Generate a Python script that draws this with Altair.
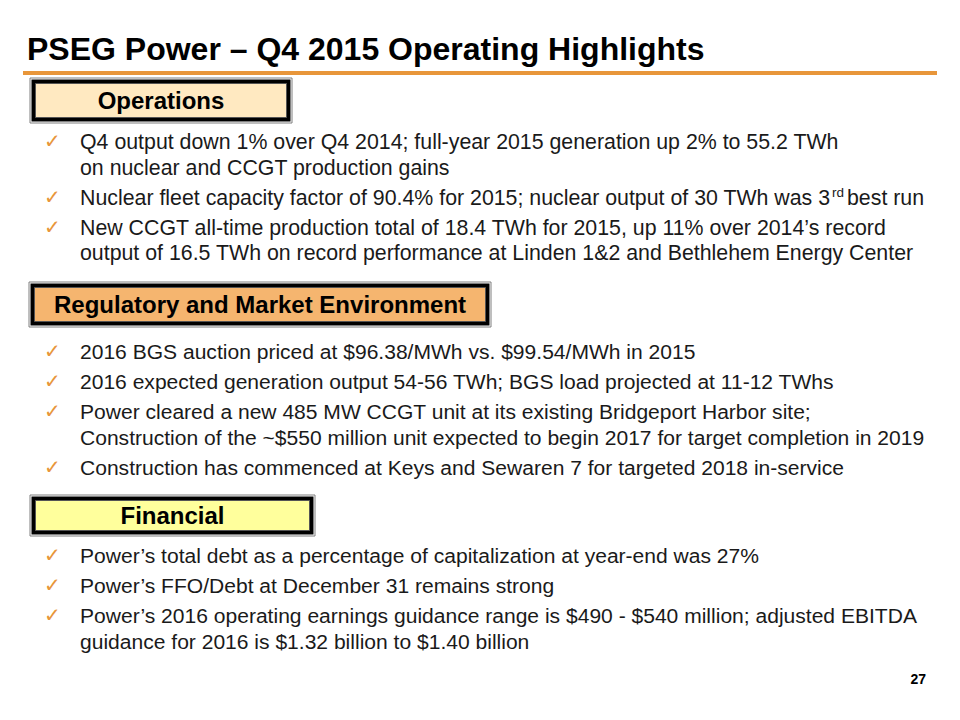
import altair as alt
import pandas as pd

# ---------------- content ----------------
TITLE = "PSEG Power – Q4 2015 Operating Highlights"
PAGE_NUMBER = "27"
SECTION_TITLES = ["Operations", "Regulatory and Market Environment", "Financial"]
OPERATIONS = [
    ["Q4 output down 1% over Q4 2014; full-year 2015 generation up 2% to 55.2 TWh",
     "on nuclear and CCGT production gains"],
    ["Nuclear fleet capacity factor of 90.4% for 2015; nuclear output of 30 TWh was 3^rd^best run"],
    ["New CCGT all-time production total of 18.4 TWh for 2015, up 11% over 2014’s record",
     "output of 16.5 TWh on record performance at Linden 1&2 and Bethlehem Energy Center"],
]
REGULATORY = [
    ["2016 BGS auction priced at $96.38/MWh vs. $99.54/MWh in 2015"],
    ["2016 expected generation output 54-56 TWh; BGS load projected at 11-12 TWhs"],
    ["Power cleared a new 485 MW CCGT unit at its existing Bridgeport Harbor site;",
     "Construction of the ~$550 million unit expected to begin 2017 for target completion in 2019"],
    ["Construction has commenced at Keys and Sewaren 7 for targeted 2018 in-service"],
]
FINANCIAL = [
    ["Power’s total debt as a percentage of capitalization at year-end was 27%"],
    ["Power’s FFO/Debt at December 31 remains strong"],
    ["Power’s 2016 operating earnings guidance range is $490 - $540 million; adjusted EBITDA",
     "guidance for 2016 is $1.32 billion to $1.40 billion"],
]
SECTIONS = [OPERATIONS, REGULATORY, FINANCIAL]

# ---------------- layout (page pixels) ----------------
W, H = 944, 704
BOXES = [(30, 292, 78, 123), (29, 491, 282, 327), (30, 315, 495, 536)]
BOX_FILLS = ["#FFE9C1", "#F5B56F", "#FFFF9C"]
FIRST_BASELINE = [149, 359, 563]
SECTION_FONT = [21.33, 21.05, 21.05]
LINE_GAP = 25.5
BULLET_GAP = 30
TEXT_X = 80
CHECK_X = 44
SUP_X = 832
AFTER_SUP_X = 847
ORANGE = "#E8963A"
FONT = "Liberation Sans, Arial, Helvetica, sans-serif"

xs = alt.Scale(domain=[8, 8 + W], nice=False, zero=False)
ys = alt.Scale(domain=[8, 8 + H], nice=False, zero=False, reverse=True)
X = lambda f: alt.X(f, type="quantitative", scale=xs, axis=None)
Y = lambda f: alt.Y(f, type="quantitative", scale=ys, axis=None)

# build tables
body = {s: [] for s in set(SECTION_FONT)}
sup, checks = [], []
for sec, base, fs in zip(SECTIONS, FIRST_BASELINE, SECTION_FONT):
    y = base
    for bullet in sec:
        checks.append({"x": CHECK_X, "y": y - 1, "t": "✓"})
        for i, line in enumerate(bullet):
            if "^" in line:
                a, s, b = line.split("^")
                body[fs].append({"x": TEXT_X, "y": y, "t": a})
                sup.append({"x": SUP_X, "y": y - 8, "t": s})
                body[fs].append({"x": AFTER_SUP_X, "y": y, "t": b})
            else:
                body[fs].append({"x": TEXT_X, "y": y, "t": line})
            if i < len(bullet) - 1:
                y += LINE_GAP
        y += BULLET_GAP

outer = pd.DataFrame([{"x": b[0], "x2": b[1], "y": b[2], "y2": b[3]} for b in BOXES])
black = pd.DataFrame([{"x": b[0] + 1.5, "x2": b[1] - 1.5, "y": b[2] + 1.5, "y2": b[3] - 1.5} for b in BOXES])
inner = pd.DataFrame([{"x": b[0] + 5.5, "x2": b[1] - 5.5, "y": b[2] + 5.5, "y2": b[3] - 5.5, "fill": c}
                      for b, c in zip(BOXES, BOX_FILLS)])
labels = pd.DataFrame([{"x": (b[0] + b[1]) / 2, "y": (b[2] + b[3]) / 2 + 8.5, "t": t}
                       for b, t in zip(BOXES, SECTION_TITLES)])


def rects(df, **kw):
    enc = dict(x=X("x"), x2="x2:Q", y=Y("y"), y2="y2:Q")
    if "fill" in df.columns:
        enc["fill"] = alt.Fill("fill:N", scale=None)
    return alt.Chart(df).mark_rect(**kw).encode(**enc)


def texts(df, **kw):
    return alt.Chart(pd.DataFrame(df)).mark_text(baseline="alphabetic", **kw).encode(
        x=X("x"), y=Y("y"), text="t:N")


rule = alt.Chart(pd.DataFrame([{"x": 23, "x2": 937, "y": 71, "y2": 75}])).mark_rect(
    color=ORANGE).encode(x=X("x"), x2="x2:Q", y=Y("y"), y2="y2:Q")

layers = [
    rule,
    rects(outer, fill="white", stroke="#7f7f7f", strokeWidth=1),
    rects(black, color="black"),
    rects(inner, stroke="#555555", strokeWidth=1),
    texts(labels, align="center", fontSize=24, fontWeight="bold", color="black", font=FONT),
    texts([{"x": 27, "y": 60, "t": TITLE}], align="left", fontSize=32, fontWeight="bold",
          color="black", font=FONT),
    texts([{"x": 926, "y": 684, "t": PAGE_NUMBER}], align="right", fontSize=14, fontWeight="bold",
          color="black", font=FONT),
    texts(checks, align="left", fontSize=20, fontWeight="bold", color=ORANGE,
          font="DejaVu Sans, sans-serif"),
    texts(sup, align="left", fontSize=13.5, color="#1a1a1a", font=FONT),
]
for fs, rows in body.items():
    layers.append(texts(rows, align="left", fontSize=fs, color="#1a1a1a", font=FONT))

chart = alt.layer(*layers).properties(
    width=W, height=H, padding=0, autosize=alt.AutoSizeParams(type="none"), background="white"
).configure_view(stroke=None)

chart.save("out.html", embed_options={"renderer": "svg", "actions": False})
